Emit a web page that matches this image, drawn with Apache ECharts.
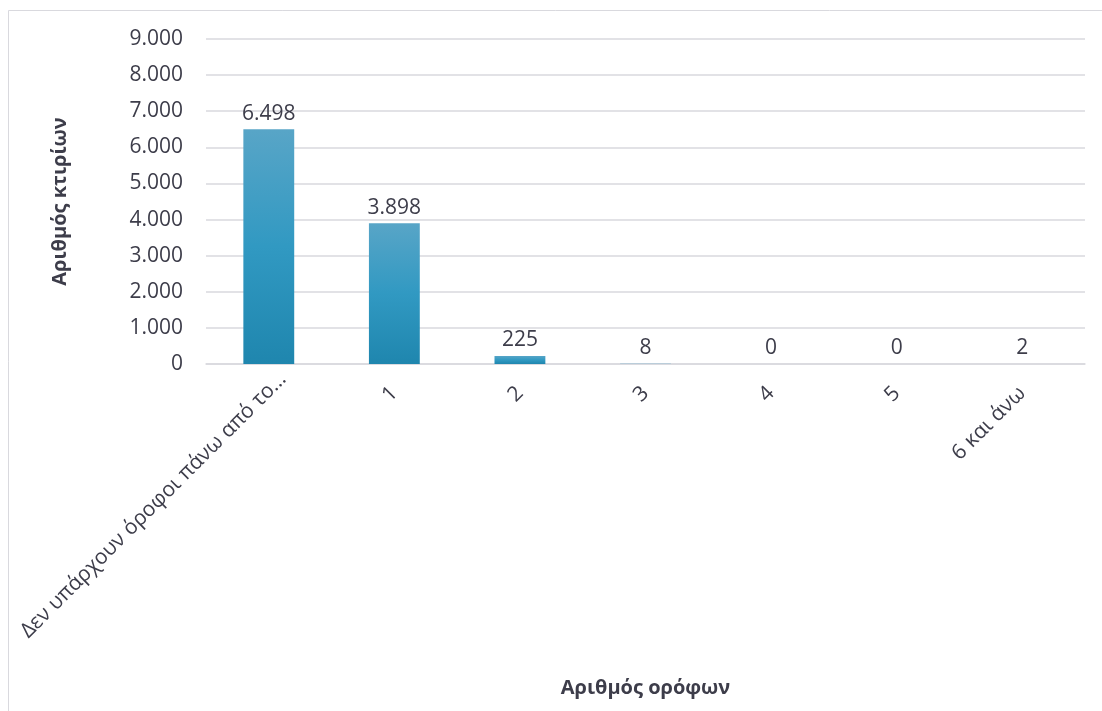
<!DOCTYPE html>
<html>
<head>
<meta charset="utf-8">
<script src="https://cdn.jsdelivr.net/npm/echarts@6/dist/echarts.min.js"></script>
<style>
  html, body { margin: 0; padding: 0; background: #fff; }
  #container { width: 1102px; height: 711px; }
</style>
</head>
<body>
<div id="container"></div>
<script>
  // data
  var categories = ['Δεν υπάρχουν όροφοι πάνω από το…', '1', '2', '3', '4', '5', '6 και άνω'];
  var buildings = [6498, 3898, 225, 8, 0, 0, 2];
  var yTicks = { min: 0, max: 9000, interval: 1000 };

  var textColor = '#3d3d4a';
  var font = '"Open Sans", "Noto Sans", sans-serif';

  // 6498 -> 6.498
  function fmt(v) {
    return String(v).replace(/\B(?=(\d{3})+(?!\d))/g, '.');
  }

  // the truncated first label sits a bit further along its slant
  var categoryData = categories.map(function (c, i) {
    if (i === 0) {
      return { value: c, textStyle: { padding: [0, -20, 0, 0] } };
    }
    return c;
  });

  var myChart = echarts.init(document.getElementById('container'));
  var option = {
    backgroundColor: '#fff',
    textStyle: { fontFamily: font },
    graphic: [{
      type: 'rect',
      shape: { x: 8.5, y: 10.5, width: 1100, height: 710 },
      style: { fill: 'none', stroke: '#d9d9de', lineWidth: 1 },
      silent: true
    }],
    grid: {
      left: 206,
      right: 17,
      top: 39,
      bottom: 347
    },
    xAxis: {
      type: 'category',
      data: categoryData,
      name: 'Αριθμός ορόφων',
      nameLocation: 'middle',
      nameGap: 314,
      nameTextStyle: {
        color: textColor,
        fontSize: 20,
        fontWeight: 'bold',
        fontFamily: font
      },
      axisLine: { lineStyle: { color: '#d9d9de', width: 1.5 } },
      axisTick: { show: false },
      axisLabel: {
        rotate: 45,
        interval: 0,
        margin: 26,
        color: textColor,
        fontSize: 21,
        fontFamily: font
      }
    },
    yAxis: {
      type: 'value',
      min: yTicks.min,
      max: yTicks.max,
      interval: yTicks.interval,
      name: 'Αριθμός κτιρίων',
      nameLocation: 'middle',
      nameGap: 136,
      nameTextStyle: {
        color: textColor,
        fontSize: 20,
        fontWeight: 'bold',
        fontFamily: font
      },
      axisLine: { show: false },
      axisTick: { show: false },
      splitLine: { lineStyle: { color: '#d9d9de', width: 1.5 } },
      axisLabel: {
        margin: 23,
        color: textColor,
        fontSize: 21,
        fontFamily: font,
        formatter: function (v) { return fmt(v); }
      }
    },
    series: [{
      type: 'bar',
      data: buildings,
      barWidth: '40.5%',
      itemStyle: {
        color: new echarts.graphic.LinearGradient(0, 0, 0, 1, [
          { offset: 0, color: '#58a5c7' },
          { offset: 0.5, color: '#3199c2' },
          { offset: 1, color: '#1f86ae' }
        ])
      },
      label: {
        show: true,
        position: 'top',
        distance: 5,
        color: textColor,
        fontSize: 21,
        fontFamily: font,
        formatter: function (p) { return fmt(p.value); }
      }
    }]
  };
  myChart.setOption(option);
</script>
</body>
</html>
